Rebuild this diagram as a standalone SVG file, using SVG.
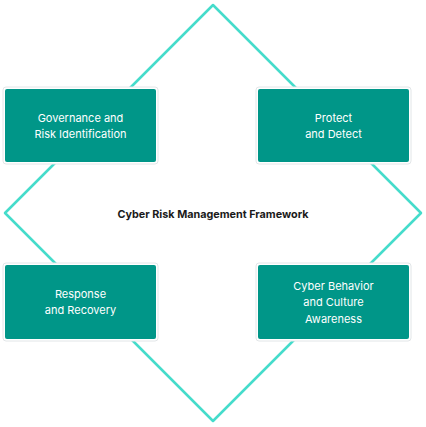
<svg xmlns="http://www.w3.org/2000/svg" width="426" height="427" viewBox="0 0 426 427">
<style>
.frame{fill:#ffffff;stroke:#e2e6e8;stroke-width:1}
.box{fill:#009688}
.lbl{font-family:Inter,"Noto Sans","Liberation Sans",sans-serif;font-size:11px;fill:#ffffff;text-anchor:middle;dominant-baseline:central}
.title{font-family:Inter,"Noto Sans","Liberation Sans",sans-serif;font-size:10.8px;font-weight:700;fill:#1a1a1a;text-anchor:middle;dominant-baseline:central}
.edge{fill:none;stroke:#45dccb;stroke-width:2.5;stroke-linejoin:round}
</style>
<rect width="426" height="427" fill="#ffffff"/>
<g id="connectors">
<path class="edge" d="M213,5 L421,213 L213,421 L5,213 Z"/>
</g>
<g id="center">
<text class="title" x="213" y="214">Cyber Risk Management Framework</text>
</g>
<g id="governance">
<rect class="frame" x="3" y="87" width="155" height="77" rx="3"/>
<rect class="box" x="5" y="89" width="151" height="73" rx="2"/>
<text class="lbl" x="80.5" y="118">Governance and</text>
<text class="lbl" x="80.5" y="134">Risk Identification</text>
</g>
<g id="protect">
<rect class="frame" x="256" y="87" width="155" height="77" rx="3"/>
<rect class="box" x="258" y="89" width="151" height="73" rx="2"/>
<text class="lbl" x="333.5" y="118">Protect</text>
<text class="lbl" x="333.5" y="134">and Detect</text>
</g>
<g id="response">
<rect class="frame" x="3" y="263" width="155" height="78" rx="3"/>
<rect class="box" x="5" y="265" width="151" height="74" rx="2"/>
<text class="lbl" x="80.5" y="294">Response</text>
<text class="lbl" x="80.5" y="310">and Recovery</text>
</g>
<g id="behavior">
<rect class="frame" x="256" y="263" width="155" height="78" rx="3"/>
<rect class="box" x="258" y="265" width="151" height="74" rx="2"/>
<text class="lbl" x="333.5" y="286">Cyber Behavior</text>
<text class="lbl" x="333.5" y="302">and Culture</text>
<text class="lbl" x="333.5" y="319">Awareness</text>
</g>
</svg>
